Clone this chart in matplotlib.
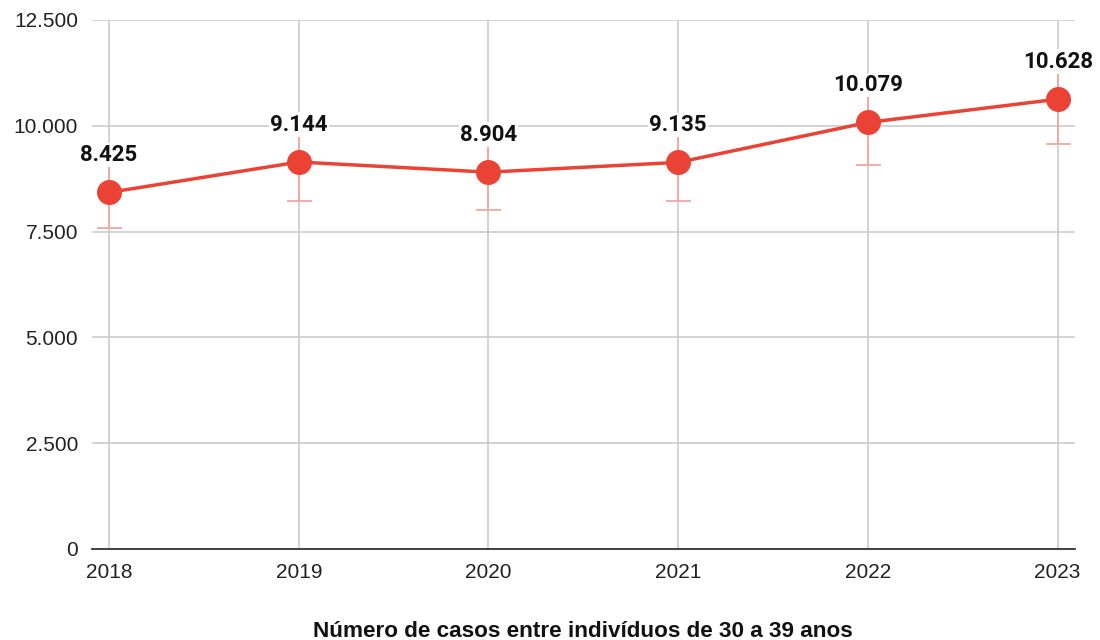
import matplotlib.pyplot as plt
from matplotlib.ticker import FuncFormatter

plt.rcParams['font.family'] = ['Liberation Sans', 'DejaVu Sans']

anos = [2018, 2019, 2020, 2021, 2022, 2023]
casos = [8425, 9144, 8904, 9135, 10079, 10628]
# barras de erro de +/- 10%
erro = [8425 * 0.1, 9144 * 0.1, 8904 * 0.1, 9135 * 0.1, 10079 * 0.1, 10628 * 0.1]
yticks = [0, 2500, 5000, 7500, 10000, 12500]


def fmt_br(v, pos=None):
    return f'{int(v):,}'.replace(',', '.')


fig = plt.figure(figsize=(11, 6.4), dpi=100)
ax = fig.add_axes([0.0836, 0.1422, 0.8934, 0.8266])

ax.errorbar(anos, casos, yerr=erro, fmt='none', ecolor='#f4a7a0', elinewidth=1.3,
            capsize=9, capthick=1.3, zorder=2)
ax.plot(anos, casos, color='#ea4335', linewidth=2.5, marker='o', markersize=17, zorder=3)

for x, y in zip(anos, casos):
    ax.annotate(fmt_br(y), (x, y), xytext=(0, 27), textcoords='offset points',
                ha='center', va='center', fontsize=16, fontweight='bold', color='#111111',
                family=['Roboto', 'DejaVu Sans'],
                bbox=dict(facecolor='white', edgecolor='none', pad=1.0), zorder=4)

ax.set_xlim(2017.91, 2023.09)
ax.set_ylim(0, 12500)
ax.set_xticks(anos)
ax.set_yticks(yticks)
ax.yaxis.set_major_formatter(FuncFormatter(fmt_br))

ax.grid(True, color='#cccccc', linewidth=1.2, zorder=0)
ax.set_axisbelow(True)
for s in ['top', 'right', 'left']:
    ax.spines[s].set_visible(False)
ax.spines['bottom'].set_color('#333333')
ax.spines['bottom'].set_linewidth(1.3)
ax.tick_params(axis='both', length=0, labelsize=15, labelcolor='#222222')
ax.tick_params(axis='y', pad=10)
ax.tick_params(axis='x', pad=10)

ax.set_xlabel('Número de casos entre indivíduos de 30 a 39 anos', fontsize=16.2,
              fontweight='bold', color='#111111', labelpad=28)

fig.savefig('out.png', dpi=100)
